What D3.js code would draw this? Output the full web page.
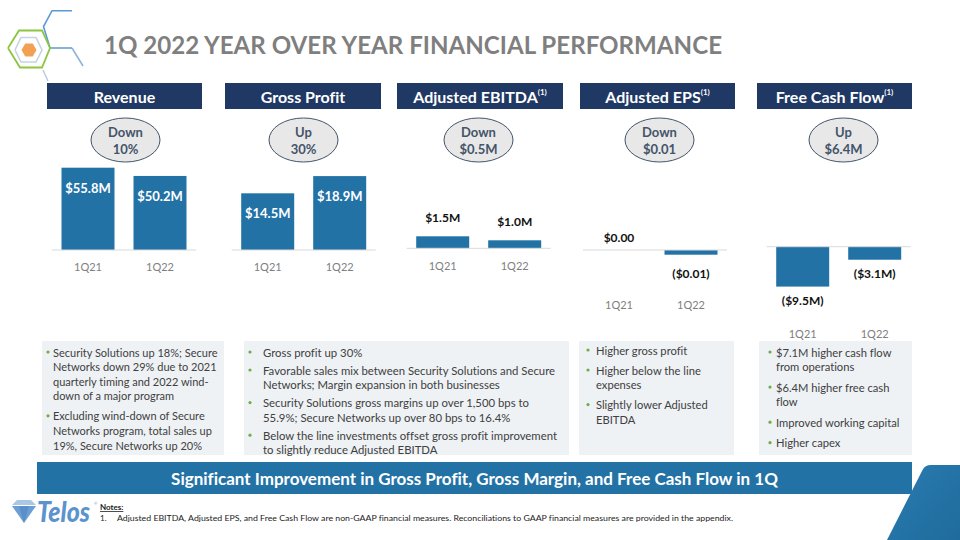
<!DOCTYPE html>
<html><head><meta charset="utf-8">
<script src="https://cdn.jsdelivr.net/npm/d3@7"></script>
<style>
html,body{margin:0;padding:0;background:#fff;}
svg{display:block;font-family:Lato,"Open Sans",sans-serif;font-variant-ligatures:none;}
</style></head><body>
<svg id="chart" width="960" height="540"></svg>
<script>
// ---------- data ----------
const categories = ["1Q21", "1Q22"];
const revenue = [55.8, 50.2];
const grossProfit = [14.5, 18.9];
const adjEbitda = [1.5, 1.0];
const adjEps = [0.00, -0.01];
const freeCashFlow = [-9.5, -3.1];
const panelTitles = ["Revenue", "Gross Profit", "Adjusted EBITDA", "Adjusted EPS", "Free Cash Flow"];
const titleNotes = ["", "", "(1)", "(1)", "(1)"];
const changeDirection = ["Down", "Up", "Down", "Down", "Up"];
const changeAmount = ["10%", "30%", "$0.5M", "$0.01", "$6.4M"];
const slideTitle = "1Q 2022 YEAR OVER YEAR FINANCIAL PERFORMANCE";
const bannerText = "Significant Improvement in Gross Profit, Gross Margin, and Free Cash Flow in 1Q";
const notesHeading = "Notes:";
const notesText = "Adjusted EBITDA, Adjusted EPS, and Free Cash Flow are non-GAAP financial measures. Reconciliations to GAAP financial measures are provided in the appendix.";
const revenueBullets = [
  ["Security Solutions up 18%; Secure", "Networks down 29% due to 2021", "quarterly timing and 2022 wind-", "down of a major program"],
  ["Excluding wind-down of Secure", "Networks program, total sales up", "19%, Secure Networks up 20%"]
];
const grossProfitBullets = [
  ["Gross profit up 30%"],
  ["Favorable sales mix between Security Solutions and Secure", "Networks; Margin expansion in both businesses"],
  ["Security Solutions gross margins up over 1,500 bps to", "55.9%; Secure Networks up over 80 bps to 16.4%"],
  ["Below the line investments offset gross profit improvement", "to slightly reduce Adjusted EBITDA"]
];
const epsBullets = [
  ["Higher gross profit"],
  ["Higher below the line", "expenses"],
  ["Slightly lower Adjusted", "EBITDA"]
];
const cashFlowBullets = [
  ["$7.1M higher cash flow", "from operations"],
  ["$6.4M higher free cash", "flow"],
  ["Improved working capital"],
  ["Higher capex"]
];

// ---------- formatters ----------
const fmtM = v => v < 0 ? `($${Math.abs(v).toFixed(1)}M)` : `$${v.toFixed(1)}M`;
const fmtEps = v => v < 0 ? `($${Math.abs(v).toFixed(2)})` : `$${Math.abs(v).toFixed(2)}`;

// ---------- layout ----------
const C = {
  navy: "#1f3864", bar: "#2372a6", grayText: "#7f7f7f", slate: "#44546a",
  panelBg: "#eef2f5", green: "#70ad47", body: "#404040", axis: "#d9d9d9"
};
const panels = [
  {values: revenue, fmt: fmtM, x0: 52, dom: [0, 60], rng: [250, 161.5], mode: "inside", catY: 266,
   box: [47, 155], oval: 125.5},
  {values: grossProfit, fmt: fmtM, x0: 231.7, dom: [0, 20], rng: [250, 171.8], mode: "inside", catY: 266,
   box: [225, 156], oval: 303.5},
  {values: adjEbitda, fmt: fmtM, x0: 406.7, dom: [0, 2], rng: [248.3, 232.3], mode: "outside", pos: 19, neg: 14, catY: 265,
   box: [397, 166], oval: 478.5},
  {values: adjEps, fmt: fmtEps, x0: 583, dom: [-0.01, 0.01], rng: [254.7, 245.3], mode: "outside", pos: 13, neg: 19, catY: 304,
   box: [580, 155], oval: 659.5},
  {values: freeCashFlow, fmt: fmtM, x0: 766.7, dom: [-10, 0], rng: [288.7, 246.7], mode: "outside", pos: 13, neg: 13.5, catY: 333,
   box: [757, 155], oval: 843.5}
];
const bulletBoxes = [
  {items: revenueBullets, x: 42, w: 182, dot: 6, tx: 11, y0: 352, gap: 20, fs: 11},
  {items: grossProfitBullets, x: 244, w: 325, dot: 6, tx: 19, y0: 352, gap: 18, fs: 11.35},
  {items: epsBullets, x: 579, w: 155, dot: 9, tx: 17, y0: 350, gap: 20, fs: 11.2},
  {items: cashFlowBullets, x: 759, w: 153, dot: 11, tx: 17, y0: 352, gap: 20.5, fs: 11.2}
];

const svg = d3.select("#chart");

// ---------- logo top-left ----------
const logo = svg.append("g").attr("fill", "none");
const line = d3.line();
logo.append("path").attr("d", line([[72,48],[83,66]]))
  .attr("stroke", "#8fb4da").attr("stroke-width", 1.6);
logo.append("path").attr("d", line([[72,10.7],[52,10.7],[43.5,26.5],[50,48],[72,48]]))
  .attr("stroke", "#5b9bd5").attr("stroke-width", 1.6);
logo.append("path").attr("d", line([[43,70],[48,81]])).attr("stroke", "#b8c9dc").attr("stroke-width", 1.4);
logo.append("path").attr("d", line([[8,48],[19,30.5],[42,30.5],[50,48],[42,67.5],[20,67.5],[8,48]]))
  .attr("stroke", "#8cc63f").attr("stroke-width", 1.8);
logo.append("path").attr("d", line([[15,50],[21,37.5],[36,37.5],[42,50],[36,62],[21,62],[15,50]]))
  .attr("stroke", "#c5d3e2").attr("stroke-width", 1.6);
const hex = d3.range(6).map(i => [29 + 7.5 * Math.cos(i * Math.PI / 3), 50 + 7.5 * Math.sin(i * Math.PI / 3)]);
logo.append("path").attr("d", line(hex) + "Z").attr("fill", "#f2a154");

// ---------- title ----------
svg.append("text").attr("x", 104).attr("y", 54)
  .attr("font-size", 25).attr("font-weight", 700).attr("fill", C.grayText)
  .attr("textLength", 618).attr("lengthAdjust", "spacingAndGlyphs")
  .text(slideTitle);

// ---------- panels ----------
panels.forEach((p, i) => {
  const g = svg.append("g");
  // header box
  g.append("rect").attr("x", p.box[0]).attr("y", 83).attr("width", p.box[1]).attr("height", 26).attr("fill", C.navy);
  const ht = g.append("text").attr("x", p.box[0] + p.box[1] / 2).attr("y", 96)
    .attr("text-anchor", "middle").attr("dominant-baseline", "central")
    .attr("fill", "#fff").attr("font-weight", 700).attr("font-size", 16);
  ht.append("tspan").text(panelTitles[i]);
  if (titleNotes[i]) ht.append("tspan").attr("font-size", 8).attr("dy", -4).text(titleNotes[i]);

  // change oval
  g.append("ellipse").attr("cx", p.oval).attr("cy", 140).attr("rx", 34.5).attr("ry", 22)
    .attr("fill", "#e8e8e8").attr("stroke", C.slate).attr("stroke-width", 1);
  g.append("text").attr("x", p.oval).attr("y", 131.5).attr("text-anchor", "middle").attr("dominant-baseline", "central")
    .attr("fill", C.slate).attr("font-weight", 700).attr("font-size", 13).text(changeDirection[i]);
  g.append("text").attr("x", p.oval).attr("y", 148.5).attr("text-anchor", "middle").attr("dominant-baseline", "central")
    .attr("fill", C.slate).attr("font-weight", 700).attr("font-size", 13).text(changeAmount[i]);

  // scales
  const x = d3.scaleBand().domain(categories).range([p.x0, p.x0 + 144]).paddingInner(0.264).paddingOuter(0.132);
  const y = d3.scaleLinear().domain(p.dom).range(p.rng);
  const rows = categories.map((c, k) => ({c, v: p.values[k]}));

  g.selectAll("rect.bar").data(rows).join("rect").attr("class", "bar")
    .attr("x", d => x(d.c)).attr("width", x.bandwidth())
    .attr("y", d => Math.min(y(d.v), y(0))).attr("height", d => Math.abs(y(d.v) - y(0)))
    .attr("fill", C.bar);

  // axis line (baseline)
  g.append("line").attr("x1", p.x0).attr("x2", p.x0 + 144).attr("y1", y(0)).attr("y2", y(0))
    .attr("stroke", C.axis).attr("stroke-width", 1);

  // category labels via axis
  const ax = g.append("g").attr("transform", `translate(0,${p.catY - 6})`)
    .call(d3.axisBottom(x).tickSize(0).tickPadding(0));
  ax.select(".domain").remove();
  ax.selectAll("text").attr("font-family", "Lato, 'Open Sans', sans-serif").attr("font-size", 11)
    .attr("fill", C.grayText).attr("dy", null).attr("y", 6).attr("dominant-baseline", "central");

  // value labels
  g.selectAll("text.val").data(rows).join("text").attr("class", "val")
    .attr("x", d => x(d.c) + x.bandwidth() / 2)
    .attr("y", d => p.mode === "inside" ? y(d.v) + 20 : (d.v < 0 ? y(d.v) + p.neg : y(d.v) - p.pos))
    .attr("text-anchor", "middle").attr("dominant-baseline", "central")
    .attr("font-weight", 700).attr("font-size", p.mode === "inside" ? 13 : 12)
    .attr("fill", p.mode === "inside" ? "#fff" : "#111")
    .text(d => p.fmt(d.v));
});

// ---------- bullet boxes ----------
bulletBoxes.forEach(b => {
  const g = svg.append("g");
  g.append("rect").attr("x", b.x).attr("y", 341).attr("width", b.w).attr("height", 114).attr("fill", C.panelBg);
  let yy = b.y0;
  b.items.forEach((lines, j) => {
    if (j > 0) yy += b.gap;
    g.append("circle").attr("cx", b.x + b.dot).attr("cy", yy).attr("r", 1.6).attr("fill", C.green);
    lines.forEach((ln, k) => {
      if (k > 0) yy += 14.6;
      g.append("text").attr("x", b.x + b.tx).attr("y", yy).attr("dominant-baseline", "central")
        .attr("font-size", b.fs).attr("fill", C.body).text(ln);
    });
  });
});

// ---------- banner ----------
svg.append("rect").attr("x", 37).attr("y", 462).attr("width", 875).attr("height", 32).attr("fill", C.bar);
svg.append("text").attr("x", 474.5).attr("y", 478).attr("text-anchor", "middle").attr("dominant-baseline", "central")
  .attr("fill", "#fff").attr("font-weight", 700).attr("font-size", 17).text(bannerText);

// bottom-right accent
const defs = svg.append("defs");
const grad = defs.append("linearGradient").attr("id", "acc").attr("x1", 0).attr("y1", 0).attr("x2", 1).attr("y2", 1);
grad.append("stop").attr("offset", 0).attr("stop-color", "#2a7cb2");
grad.append("stop").attr("offset", 1).attr("stop-color", "#1f6b9c");
svg.append("path").attr("d", "M887,540 L922.5,470 Q925,465 931,465 L960,465 L960,540 Z").attr("fill", "url(#acc)");

// ---------- Telos logo ----------
const tl = svg.append("g");
tl.append("path").attr("d", "M12,505 L17,500 L31,500 L36,505 Z").attr("fill", "#a9c8e6");
tl.append("path").attr("d", "M12,506 L36,506 L24,523 Z").attr("fill", "#6b9fd4");
tl.append("path").attr("d", "M19,506 L29,506 L24,523 Z").attr("fill", "#5a8fc8");
tl.append("text").attr("x", 0).attr("y", 0).attr("transform", "translate(37,522) scale(0.86,1)")
  .attr("font-size", 29).attr("font-weight", 900).attr("font-style", "italic").attr("fill", "#5b93cc").text("Telos");
tl.append("text").attr("x", 94).attr("y", 505).attr("font-size", 4).attr("fill", "#5b93cc").text("®");

// ---------- notes ----------
svg.append("text").attr("x", 100).attr("y", 510).attr("font-size", 8).attr("font-weight", 700)
  .attr("fill", "#222").attr("text-decoration", "underline").text(notesHeading);
svg.append("text").attr("x", 100).attr("y", 521).attr("font-size", 8).attr("fill", "#222").text("1.");
svg.append("text").attr("x", 117).attr("y", 521).attr("font-size", 8).attr("fill", "#222")
  .attr("textLength", 616).attr("lengthAdjust", "spacingAndGlyphs").text(notesText);
</script>
</body></html>
